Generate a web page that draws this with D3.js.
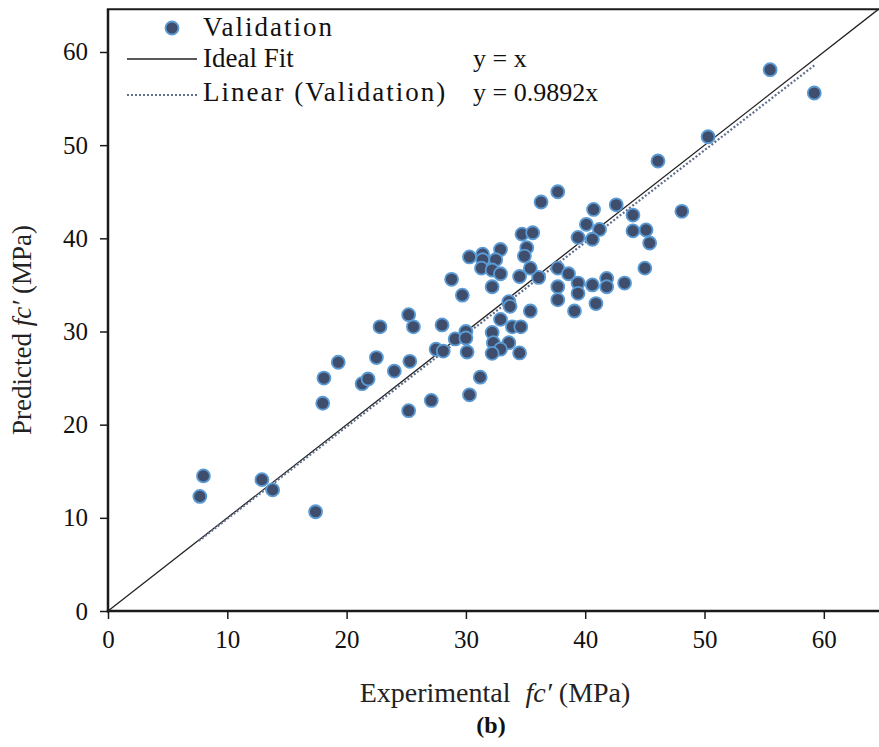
<!DOCTYPE html>
<html><head><meta charset="utf-8">
<script src="https://cdn.jsdelivr.net/npm/d3@7"></script>
<style>
body{margin:0;background:#fff;}
text{font-family:"Liberation Serif","Times New Roman",serif;}
</style></head>
<body><svg id="c" width="879" height="747"></svg>
<script>
// Validation points (experimental, predicted) in MPa
const expVals = [7.7,8.0,12.9,13.8,17.4,18.0,18.1,19.3,21.3,21.8,22.5,22.8,24.0,25.2,25.2,25.6,25.3,27.1,27.5,28.1,28.0,28.8,29.7,29.1,30.0,30.0,30.1,30.3,30.3,36.3,37.7,40.7,42.6,44.0,46.1,44.0,45.1,45.4,40.1,41.2,39.4,40.6,45.0,43.3,41.8,41.8,40.6,40.9,39.1,39.4,39.4,37.7,38.6,37.7,37.7,35.4,36.1,35.4,34.5,34.7,35.6,35.1,34.9,32.9,32.5,31.4,31.4,31.3,32.2,32.9,32.2,33.6,33.7,32.9,33.9,34.6,32.2,32.3,33.6,32.9,32.2,34.5,55.5,59.2,50.3,48.1,31.2];
const predVals = [12.3,14.5,14.1,13.0,10.65,22.3,25.0,26.7,24.4,24.9,27.2,30.5,25.75,21.5,31.8,30.5,26.8,22.6,28.1,27.9,30.7,35.6,33.9,29.2,30.0,29.3,27.8,38.0,23.2,43.9,45.0,43.1,43.6,42.5,48.3,40.8,40.9,39.5,41.5,40.95,40.1,39.9,36.8,35.2,35.7,34.8,35.0,33.0,32.2,35.2,34.1,36.8,36.2,34.8,33.4,32.2,35.8,36.8,35.9,40.45,40.6,39.0,38.1,38.8,37.7,38.3,37.7,36.8,36.6,36.2,34.8,33.2,32.7,31.3,30.5,30.5,29.9,28.8,28.8,28.1,27.65,27.7,58.1,55.6,50.9,42.9,25.1];
const xTicks = [0,10,20,30,40,50,60];
const yTicks = [0,10,20,30,40,50,60];
const slope = 0.9892;
const trendRange = [7.6, 59.2];
const legendItems = ["Validation","Ideal Fit","Linear (Validation)"];
const legendEq = ["","y = x","y = 0.9892x"];

const svg = d3.select("#c");
const x = d3.scaleLinear().domain([0,64.6]).range([108,878.7]);
const y = d3.scaleLinear().domain([0,65]).range([611,5.4]);
const ink = "#1a1a1a";

// axes
const xa = svg.append("g").attr("transform","translate(0,611)")
  .call(d3.axisBottom(x).tickValues(xTicks).tickSize(8).tickPadding(11).tickFormat(d3.format("d")));
const ya = svg.append("g").attr("transform","translate(108,0)")
  .call(d3.axisLeft(y).tickValues(yTicks).tickSize(8).tickPadding(12).tickFormat(d3.format("d")));
[xa,ya].forEach(g=>{
  g.select(".domain").remove();
  g.selectAll(".tick line").attr("stroke",ink).attr("stroke-width",1.5);
  g.selectAll(".tick text").attr("fill","#111").style("font-size","25px").style("font-family","Liberation Serif, serif");
});
// frame
svg.append("line").attr("x1",108).attr("x2",108).attr("y1",y(64.6)).attr("y2",612.5).attr("stroke",ink).attr("stroke-width",2.5);
svg.append("line").attr("x1",106.8).attr("x2",879).attr("y1",611).attr("y2",611).attr("stroke",ink).attr("stroke-width",2.5);
svg.append("line").attr("x1",106.8).attr("x2",879).attr("y1",y(64.6)).attr("y2",y(64.6)).attr("stroke",ink).attr("stroke-width",2);

// ideal fit line
svg.append("line").attr("x1",x(0)).attr("y1",y(0)).attr("x2",x(64.6)).attr("y2",y(64.6))
  .attr("stroke","#222").attr("stroke-width",1.3);
// trend line
svg.append("line").attr("x1",x(trendRange[0])).attr("y1",y(slope*trendRange[0]))
  .attr("x2",x(trendRange[1])).attr("y2",y(slope*trendRange[1]))
  .attr("stroke","#5f6f8c").attr("stroke-width",2.2).attr("stroke-dasharray","2,2");

// points
svg.append("g").selectAll("circle").data(expVals.map((v,i)=>[v,predVals[i]])).join("circle")
  .attr("cx",d=>x(d[0])).attr("cy",d=>y(d[1])).attr("r",6.5)
  .attr("fill","#3e4e6c").attr("stroke","#5b9bd5").attr("stroke-width",1.8);

// legend
const lg = svg.append("g");
lg.append("circle").attr("cx",172).attr("cy",28).attr("r",6.5).attr("fill","#3e4e6c").attr("stroke","#5b9bd5").attr("stroke-width",1.8);
lg.append("line").attr("x1",127).attr("x2",197).attr("y1",59).attr("y2",59).attr("stroke","#222").attr("stroke-width",1.3);
lg.append("line").attr("x1",127).attr("x2",197).attr("y1",95).attr("y2",95).attr("stroke","#5f6f8c").attr("stroke-width",2.2).attr("stroke-dasharray","2,2");
const lyy = [36,67,101];
legendItems.forEach((t,i)=>{
  lg.append("text").attr("x",203).attr("y",lyy[i]).attr("fill","#111").style("font-size","27px")
    .style("letter-spacing", t.includes("Validation") ? "2px" : "0px").text(t);
  if(legendEq[i]) lg.append("text").attr("x",473).attr("y",lyy[i]).attr("fill","#111").style("font-size","26px").text(legendEq[i]);
});

// axis titles
const xt = svg.append("text").attr("x",495).attr("y",702).attr("text-anchor","middle").attr("fill","#222").style("font-size","28px");
xt.append("tspan").text("Experimental ");
xt.append("tspan").attr("dx",8).style("font-style","italic").text("fc′");
xt.append("tspan").text(" (MPa)");
svg.append("text").attr("x",491).attr("y",733).attr("text-anchor","middle").attr("fill","#111").style("font-size","24px").style("font-weight","bold").text("(b)");
const yt = svg.append("text").attr("transform","translate(31,330) rotate(-90)").attr("text-anchor","middle").attr("fill","#222").style("font-size","27px");
yt.append("tspan").text("Predicted ");
yt.append("tspan").style("font-style","italic").text("fc′");
yt.append("tspan").text(" (MPa)");
</script></body></html>
